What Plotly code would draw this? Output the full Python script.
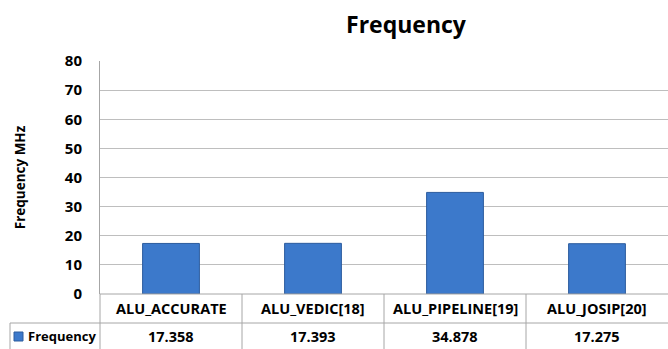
import plotly.graph_objects as go

# Chart data
categories = ["ALU_ACCURATE", "ALU_VEDIC[18]", "ALU_PIPELINE[19]", "ALU_JOSIP[20]"]
frequency_mhz = [17.358, 17.393, 34.878, 17.275]
series_name = "Frequency"
y_ticks = [0, 10, 20, 30, 40, 50, 60, 70, 80]

FONT = "Open Sans"
GRID = "#BEBEBE"
TABLE = "#A6A6A6"
BAR_FILL = "#3C79CB"
BAR_EDGE = "#2C5C9E"

W, H = 668, 349
L, R, T, B = 100, 0, 61, 55
plot_h = H - T - B

def py(px_y):
    """Convert a pixel row below the plot area to paper coordinates."""
    return (H - B - px_y) / plot_h

def px(px_x):
    return (px_x - L) / (W - L - R)

fig = go.Figure()
fig.add_trace(go.Bar(
    x=list(range(len(categories))),
    y=frequency_mhz,
    width=0.4,
    name=series_name,
    marker=dict(color=BAR_FILL, line=dict(color=BAR_EDGE, width=1)),
    showlegend=False,
))

fig.update_layout(
    width=W, height=H,
    margin=dict(l=L, r=R, t=T, b=B),
    plot_bgcolor="white", paper_bgcolor="white",
    title=dict(text="<b>Frequency</b>", x=406 / W, xanchor="center",
               y=1 - 25 / H, yanchor="middle",
               font=dict(family=FONT, size=23, color="black")),
    xaxis=dict(range=[-0.5, len(categories) - 0.5], showticklabels=False,
               showgrid=False, zeroline=False, showline=False, fixedrange=True),
    yaxis=dict(range=[0, 80], tickvals=y_ticks, showgrid=True, gridcolor=GRID,
               gridwidth=1, zeroline=False, showline=True, linecolor=TABLE,
               linewidth=1, ticks="", ticklabelstandoff=14,
               tickfont=dict(family=FONT, size=15, color="black", weight="bold"),
               title=dict(text="<b>Frequency MHz</b>", standoff=36,
                          font=dict(family=FONT, size=13.5, color="black"))),
    font=dict(family=FONT),
)

shapes = []
line = dict(color=TABLE, width=1)
# Table horizontal rules
shapes.append(dict(type="line", xref="paper", yref="paper", x0=0, x1=1,
                   y0=0, y1=0, line=line))
shapes.append(dict(type="line", xref="paper", yref="paper", x0=px(10), x1=1,
                   y0=py(323), y1=py(323), line=line))
# Table vertical rules
shapes.append(dict(type="line", xref="paper", yref="paper", x0=0, x1=0,
                   y0=0, y1=py(H), line=line))
shapes.append(dict(type="line", xref="paper", yref="paper", x0=px(10), x1=px(10),
                   y0=py(323), y1=py(H), line=line))
for i in range(len(categories) - 1):
    shapes.append(dict(type="line", xref="x", yref="paper", x0=i + 0.5, x1=i + 0.5,
                       y0=0, y1=py(H), line=line))
# Legend key
shapes.append(dict(type="rect", xref="paper", yref="paper",
                   x0=px(14), x1=px(23), y0=py(341), y1=py(332),
                   fillcolor=BAR_FILL, line=dict(color=BAR_EDGE, width=1)))

annotations = []
for i, (cat, val) in enumerate(zip(categories, frequency_mhz)):
    annotations.append(dict(x=i, y=py(308), xref="x", yref="paper",
                            text=f"<b>{cat}</b>", showarrow=False,
                            xanchor="center", yanchor="middle",
                            font=dict(family=FONT, size=14.5, color="black")))
    annotations.append(dict(x=i, y=py(336), xref="x", yref="paper",
                            text=f"<b>{val:.3f}</b>", showarrow=False,
                            xanchor="center", yanchor="middle",
                            font=dict(family=FONT, size=14.5, color="black")))
annotations.append(dict(x=px(26), y=py(336), xref="paper", yref="paper",
                        text=f"<b>{series_name}</b>", showarrow=False,
                        xanchor="left", yanchor="middle",
                        font=dict(family=FONT, size=13, color="black")))

fig.update_layout(shapes=shapes, annotations=annotations)
fig.write_html("out.html")
